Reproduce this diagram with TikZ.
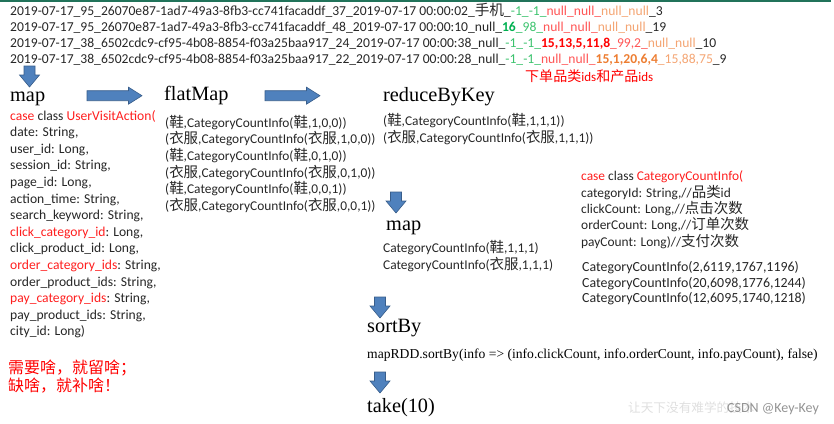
\documentclass[tikz,border=0pt]{standalone}
\usepackage{fontspec}
\setmainfont{Carlito}
\newfontfamily\tnr{Liberation Serif}
\newfontfamily\cjk[Scale=1.08]{Noto Sans CJK SC}
\newcommand{\zh}[1]{{\cjk #1}}
\usepackage{tikz}
\usetikzlibrary{positioning}
\definecolor{arrowblue}{RGB}{79,129,189}
\definecolor{arrowedge}{RGB}{56,93,138}
\definecolor{topgreen}{RGB}{33,115,90}
\definecolor{txt}{RGB}{38,38,38}
\definecolor{codered}{RGB}{255,30,30}
\definecolor{idgreen}{RGB}{0,176,80}
\definecolor{idgreenl}{RGB}{60,195,110}
\definecolor{idredl}{RGB}{255,85,85}
\definecolor{idorange}{RGB}{237,125,49}
\definecolor{idorangel}{RGB}{244,165,115}

\begin{document}
\begin{tikzpicture}[x=1pt,y=-1pt,
  rawline/.style={font=\fontsize{13.6}{16}\selectfont,text=txt,inner sep=0,anchor=base west},
  codetext/.style={font=\fontsize{13.4}{16.6}\selectfont,text=txt,align=left,inner sep=0,anchor=north west},
  stagehead/.style={font=\tnr\fontsize{20.3}{24}\selectfont,inner sep=0,anchor=base west},
  blockarrow/.style={draw=arrowedge,fill=arrowblue,line width=.6pt,line join=miter}]
  \useasboundingbox (0,0) rectangle (834,423);
  \fill[topgreen] (0,0) rectangle (831,2);

  % raw log lines
  \node[rawline] (raw1) at (10,15) {2019-07-17\_95\_26070e87-1ad7-49a3-8fb3-cc741facaddf\_37\_2019-07-17 00:00:02\_\zh{手机}\_\textcolor{idgreenl}{-1\_-1\_}\textcolor{idredl}{null\_null\_}\textcolor{idorangel}{null\_null}\_3};
  \node[rawline] (raw2) at (10,31) {2019-07-17\_95\_26070e87-1ad7-49a3-8fb3-cc741facaddf\_48\_2019-07-17 00:00:10\_null\_\textcolor{idgreen}{\textbf{16}}\textcolor{idgreenl}{\_98\_}\textcolor{idredl}{null\_null\_}\textcolor{idorangel}{null\_null}\_19};
  \node[rawline] (raw3) at (10,47) {2019-07-17\_38\_6502cdc9-cf95-4b08-8854-f03a25baa917\_24\_2019-07-17 00:00:38\_null\_\textcolor{idgreenl}{-1\_-1\_}\textcolor{red}{\textbf{15,13,5,11,8}}\textcolor{idredl}{\_99,2\_}\textcolor{idorangel}{null\_null}\_10};
  \node[rawline] (raw4) at (10,63) {2019-07-17\_38\_6502cdc9-cf95-4b08-8854-f03a25baa917\_22\_2019-07-17 00:00:28\_null\_\textcolor{idgreenl}{-1\_-1\_}\textcolor{idredl}{null\_null\_}\textcolor{idorange}{\textbf{15,1,20,6,4}}\textcolor{idorangel}{\_15,88,75}\_9};
  \node[rawline,text=red,font=\fontsize{13}{16}\selectfont] (idsnote) at (525,81) {\zh{下单品类}ids\zh{和产品}ids};

  % stages
  \node[stagehead] (mapHead) at (10,101) {map};
  \node[stagehead] (flatHead) at (164,100) {flatMap};
  \node[stagehead] (reduceHead) at (383,101) {reduceByKey};
  \node[stagehead] (map2Head) at (386,230.5) {map};
  \node[stagehead] (sortHead) at (367,332) {sortBy};
  \node[stagehead] (takeHead) at (367,412) {take(10)};

  % block arrows
  \foreach \x/\y in {87/95.7,265/95.7}
    \filldraw[blockarrow,shift={(\x,\y)}] (0,-5) -- (41.5,-5) -- (41.5,-8.5) -- (55,0)
      -- (41.5,8.5) -- (41.5,5) -- (0,5) -- cycle;
  \foreach \x/\y in {29.5/66,396/192,380/297,380/372}
    \filldraw[blockarrow,shift={(\x,\y)}] (-5.5,0) -- (-5.5,9) -- (-10,9) -- (0,21)
      -- (10,9) -- (5.5,9) -- (5.5,0) -- cycle;

  % code under each stage
  \node[codetext,font=\fontsize{13.6}{16.6}\selectfont] (mapCode) at (10,110) {\textcolor{codered}{case} class \textcolor{codered}{UserVisitAction(}\\
    date: String,\\ user\_id: Long,\\ session\_id: String,\\ page\_id: Long,\\ action\_time: String,\\
    search\_keyword: String,\\ \textcolor{codered}{click\_category\_id}: Long,\\ click\_product\_id: Long,\\
    \textcolor{codered}{order\_category\_ids}: String,\\ order\_product\_ids: String,\\
    \textcolor{codered}{pay\_category\_ids}: String,\\ pay\_product\_ids: String,\\ city\_id: Long)};
  \node[codetext] (flatCode) at (165,115) {(\zh{鞋},CategoryCountInfo(\zh{鞋},1,0,0))\\
    (\zh{衣服},CategoryCountInfo(\zh{衣服},1,0,0))\\ (\zh{鞋},CategoryCountInfo(\zh{鞋},0,1,0))\\
    (\zh{衣服},CategoryCountInfo(\zh{衣服},0,1,0))\\ (\zh{鞋},CategoryCountInfo(\zh{鞋},0,0,1))\\
    (\zh{衣服},CategoryCountInfo(\zh{衣服},0,0,1))};
  \node[codetext] (reduceCode) at (383,113.5) {(\zh{鞋},CategoryCountInfo(\zh{鞋},1,1,1))\\
    (\zh{衣服},CategoryCountInfo(\zh{衣服},1,1,1))};
  \node[codetext] (map2Code) at (383,240.5) {CategoryCountInfo(\zh{鞋},1,1,1)\\ CategoryCountInfo(\zh{衣服},1,1,1)};
  \node[codetext,font=\fontsize{13.4}{16.3}\selectfont] (infoClass) at (581,171) {\textcolor{codered}{case} class \textcolor{codered}{CategoryCountInfo(}\\
    categoryId: String,//\zh{品类}id\\ clickCount: Long,//\zh{点击次数}\\
    orderCount: Long,//\zh{订单次数}\\ payCount: Long)//\zh{支付次数}};
  \node[codetext,font=\fontsize{13.9}{15.7}\selectfont] (infoTop) at (582,261) {CategoryCountInfo(2,6119,1767,1196)\\
    CategoryCountInfo(20,6098,1776,1244)\\ CategoryCountInfo(12,6095,1740,1218)};
  \node[stagehead,font=\tnr\fontsize{13.6}{16}\selectfont] (sortCode) at (367,358) {mapRDD.sortBy(info => (info.clickCount, info.orderCount, info.payCount), false)};

  \node[codetext,text=red,font=\cjk\fontsize{14.8}{18}\selectfont] (advice) at (8,359.5) {需要啥，就留啥；\\ 缺啥，就补啥！};

  \node[rawline,text=gray!25,font=\cjk\fontsize{11.7}{16}\selectfont] (wmark) at (628,412) {让天下没有难学的技术};
  \node[rawline,text=gray!85,font=\fontsize{14}{16}\selectfont] (csdn) at (727,412) {CSDN @Key-Key};
\end{tikzpicture}
\end{document}
